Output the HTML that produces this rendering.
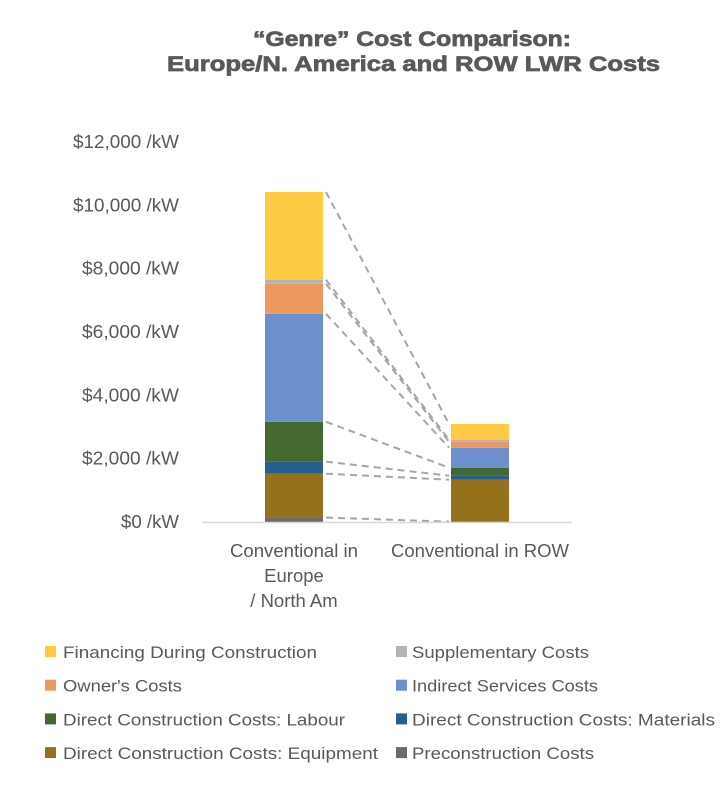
<!DOCTYPE html>
<html><head><meta charset="utf-8"><style>
html,body{margin:0;padding:0;background:#fff;width:726px;height:786px;overflow:hidden}
svg text{font-family:"Liberation Sans",sans-serif}
</style></head><body>
<svg id="chart" width="726" height="786" viewBox="0 0 726 786" xmlns="http://www.w3.org/2000/svg">
<text x="253" y="46" font-size="21" font-weight="bold" fill="#595959" stroke="#595959" stroke-width="0.7" textLength="318" lengthAdjust="spacingAndGlyphs">“Genre” Cost Comparison:</text>
<text x="167" y="71" font-size="21" font-weight="bold" fill="#595959" stroke="#595959" stroke-width="0.7" textLength="493" lengthAdjust="spacingAndGlyphs">Europe/N. America and ROW LWR Costs</text>
<g id="yaxis"></g>
<g id="lines"></g>
<g id="bars"></g>
<line x1="202" y1="522.5" x2="572" y2="522.5" stroke="#d9d9d9" stroke-width="1.5"/>
<g font-size="18.5" fill="#595959" text-anchor="middle">
<text x="294" y="557" textLength="128" lengthAdjust="spacingAndGlyphs">Conventional in</text>
<text x="294" y="582">Europe</text>
<text x="294" y="607">/ North Am</text>
<text x="480" y="557" textLength="178" lengthAdjust="spacingAndGlyphs">Conventional in ROW</text>
</g>
<g id="legend"></g>
</svg>
<script>
const categories = ["Conventional in Europe / North Am", "Conventional in ROW"];
const seriesNames = ["Preconstruction Costs","Direct Construction Costs: Equipment","Direct Construction Costs: Materials","Direct Construction Costs: Labour","Indirect Services Costs","Owner's Costs","Supplementary Costs","Financing During Construction"];
const europeValues = [140, 1385, 380, 1260, 3410, 950, 125, 2770];
const rowValues = [10, 1326, 126, 253, 631, 190, 64, 495];
const yTicks = [0, 2000, 4000, 6000, 8000, 10000, 12000];
const yTickLabels = ["$0 /kW","$2,000 /kW","$4,000 /kW","$6,000 /kW","$8,000 /kW","$10,000 /kW","$12,000 /kW"];
const colors = ["#6b6b6b","#94711a","#285e8e","#436930","#6c8fce","#ed9861","#b4b4b4","#ffca44"];
const legendOrder = [7,6,5,4,3,2,1,0];
const legendWidths = {7:254,6:177,5:119,4:186,3:282,2:303,1:315,0:182};

const NS="http://www.w3.org/2000/svg";
const y0=522, yMax=12000, yTop=142;
const yScale=v=>y0-(v/yMax)*(y0-yTop);
const barX=[265,451], barW=58;
function mk(tag,attrs,parent){const e=document.createElementNS(NS,tag);for(const k in attrs)e.setAttribute(k,attrs[k]);parent.appendChild(e);return e;}

const yax=document.getElementById('yaxis');
yTicks.forEach((t,i)=>{
  const lbl=yTickLabels[i];
  const tx=mk('text',{x:179,y:yScale(t)+6,'font-size':18,fill:'#595959','text-anchor':'end',textLength:Math.round(lbl.length*9.65),lengthAdjust:'spacingAndGlyphs'},yax);
  
  
  tx.textContent=lbl;
});

const bars=document.getElementById('bars');
const lines=document.getElementById('lines');
const data=[europeValues,rowValues];
const tops=[[],[]];
data.forEach((vals,ci)=>{
  let cum=0;
  vals.forEach((v,si)=>{
    const yb=yScale(cum), yt=yScale(cum+v);
    const r=mk('rect',{x:barX[ci],y:yt,width:barW,height:Math.max(0,yb-yt),fill:colors[si]},bars);
    
    
    cum+=v; tops[ci].push(yt);
  });
});
seriesNames.forEach((n,si)=>{
  const l=mk('line',{x1:barX[0]+barW+3,y1:tops[0][si],x2:barX[1]-2,y2:tops[1][si],stroke:'#a6a6a6','stroke-width':2,'stroke-dasharray':'7,5'},lines);
  
  
});

const lg=document.getElementById('legend');
legendOrder.forEach((si,i)=>{
  const col=i%2, row=Math.floor(i/2);
  const sx=col?396:45, tx=col?412:63, cy=652+row*33.7;
  const g=mk('g',{},lg);
  
  
  mk('rect',{x:sx,y:cy-6,width:11,height:11,fill:colors[si]},g);
  const t=mk('text',{x:tx,y:cy+6,'font-size':16.5,fill:'#595959',textLength:legendWidths[si],lengthAdjust:'spacingAndGlyphs'},g);
  t.textContent=seriesNames[si];
});
</script>
</body></html>
